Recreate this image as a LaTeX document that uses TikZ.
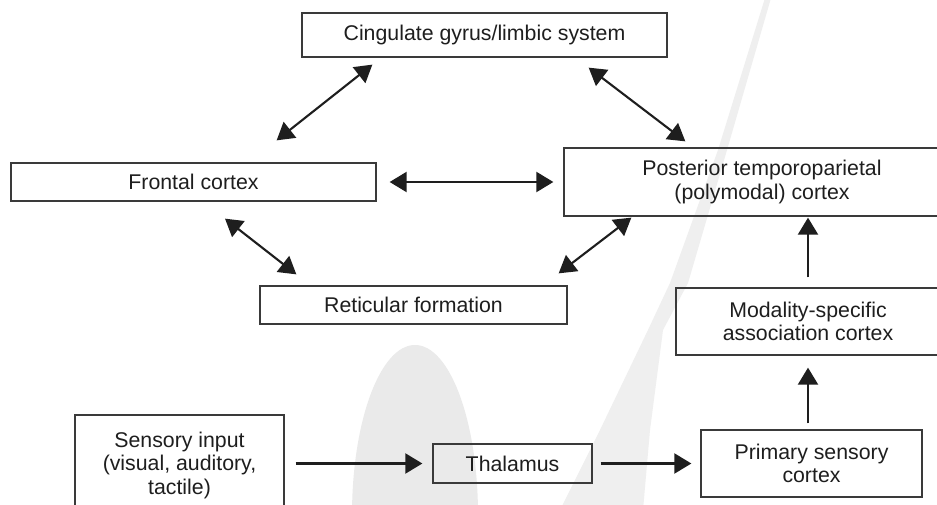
\documentclass[tikz,border=0pt]{standalone}
\usepackage{fontspec}
\setmainfont{Liberation Sans}
\usetikzlibrary{arrows.meta,calc}
\definecolor{ink}{HTML}{1E1E1E}
\definecolor{frame}{HTML}{3A3A3A}
\definecolor{wmark}{HTML}{EAEAEA}
\definecolor{wslash}{HTML}{EFEFEF}
\tikzset{
  box/.style={draw=frame, line width=1.3pt, rectangle, inner sep=0pt,
    align=center, text=ink, font=\fontsize{21.3}{23.5}\selectfont},
  tip/.tip={Triangle[length=17pt,width=20pt]},
  link/.style={draw=ink, line width=2.1pt, -tip},
  duplex/.style={draw=ink, line width=2.1pt, tip-tip}
}
\begin{document}
\begin{tikzpicture}[x=1pt,y=-1pt]
\useasboundingbox (0,0) rectangle (937,505);
\clip (0,0) rectangle (937,505);
\fill[white] (0,0) rectangle (937,505);

% faint background emblem
\fill[wmark] (415,515) ellipse [x radius=63, y radius=170];
\fill[wslash] (765,-2) -- (718,150) -- (670,283) -- (648,330) -- (600,430) -- (560,510)
  -- (643,510) -- (650,430) -- (663,330) -- (688,283) -- (727,150) -- (771,-2) -- cycle;

% boxes
\node[box, minimum width=365, minimum height=44] (cing) at (484.5,35) {Cingulate gyrus/limbic system};
\node[box, minimum width=365, minimum height=38] (front) at (193.5,182) {Frontal cortex};
\node[box, minimum width=396, minimum height=68] (post) at (762,182) {Posterior temporoparietal\\(polymodal) cortex};
\node[box, minimum width=307, minimum height=38] (ret) at (413.5,305) {Reticular formation};
\node[box, minimum width=264, minimum height=67] (mod) at (808,321.5) {Modality-specific\\association cortex};
\node[box, minimum width=209, minimum height=100] (sens) at (179.5,465) {Sensory input\\(visual, auditory,\\tactile)};
\node[box, minimum width=159, minimum height=39] (thal) at (512.5,463.5) {Thalamus};
\node[box, minimum width=221, minimum height=67] (prim) at (811.5,463.5) {Primary sensory\\cortex};

% two-way links
\draw[duplex] ([shift={(-100,-22)}]front.north east) -- ([shift={(71,7)}]cing.south west);
\draw[duplex] ([shift={(-79,10)}]cing.south east) -- ([shift={(122,-6)}]post.north west);
\draw[duplex] ([shift={(13,0)}]front.east) -- ([shift={(-10,0)}]post.west);
\draw[duplex] ([shift={(31.5,17)}]front.south) -- ([shift={(37,-11)}]ret.north west);
\draw[duplex] ([shift={(-9,-12)}]ret.north east) -- ([shift={(68,1)}]post.south west);

% one-way pathway
\draw[link] ([shift={(11,0)}]sens.east |- thal.west) -- ([shift={(-10,0)}]thal.west);
\draw[link] ([shift={(8,0)}]thal.east) -- ([shift={(-9,0)}]prim.west);
\draw[link] ([shift={(0,-6)}]prim.north -| mod.south) -- ([shift={(0,12)}]mod.south);
\draw[link] ([shift={(0,-10)}]mod.north) -- ([shift={(0,1)}]mod.north |- post.south);
\end{tikzpicture}
\end{document}
